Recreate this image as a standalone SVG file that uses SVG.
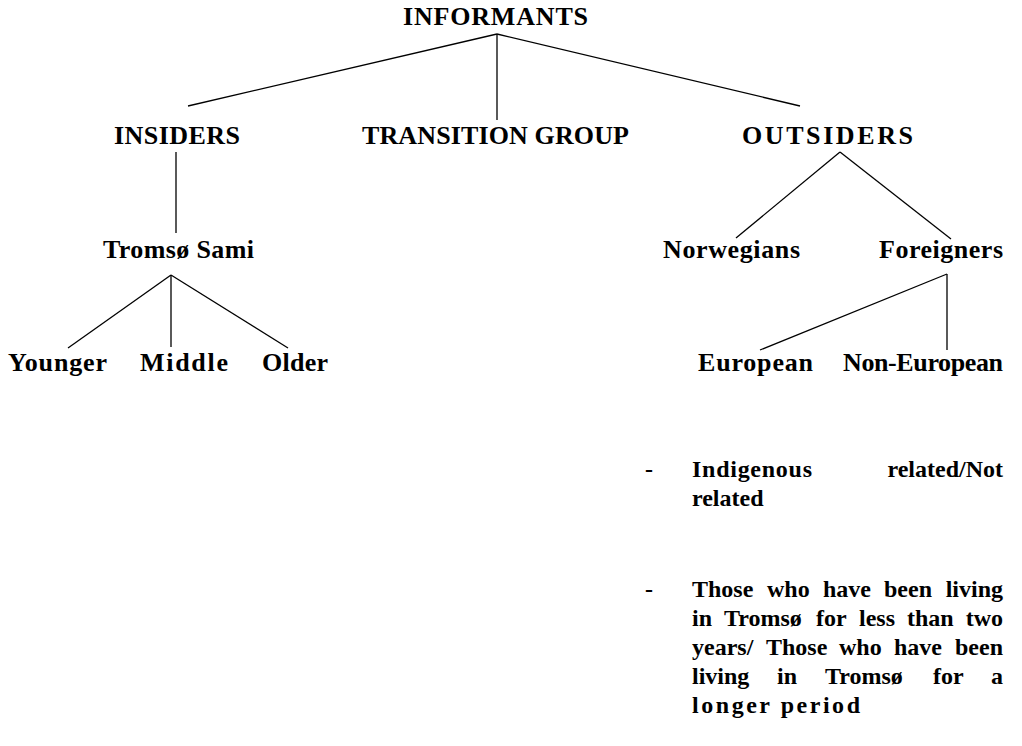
<svg xmlns="http://www.w3.org/2000/svg" width="1022" height="746" viewBox="0 0 1022 746">
<style>
text{font-family:"Liberation Serif","Times New Roman",serif;font-weight:bold;font-size:24px;fill:#000}
.h{font-size:26px}
.e{text-anchor:end}
line{stroke:#000;stroke-width:1.3;fill:none}
</style>
<rect width="1022" height="746" fill="#fff"/>
<g id="connectors">
<line x1="497" y1="34" x2="188" y2="106"/>
<line x1="497" y1="34" x2="497" y2="120"/>
<line x1="497" y1="34" x2="800" y2="106"/>
<line x1="176" y1="152" x2="176" y2="233"/>
<line x1="171" y1="275" x2="68" y2="348"/>
<line x1="171" y1="275" x2="171" y2="347"/>
<line x1="171" y1="275" x2="288" y2="348"/>
<line x1="840" y1="152" x2="736" y2="238"/>
<line x1="840" y1="152" x2="951" y2="239"/>
<line x1="947" y1="274" x2="760" y2="350"/>
<line x1="947" y1="274" x2="947" y2="350"/>
</g>
<g id="informants"><text class="h" x="403" y="25" textLength="185" lengthAdjust="spacing">INFORMANTS</text></g>
<g id="insiders"><text class="h" x="114" y="144" textLength="126" lengthAdjust="spacing">INSIDERS</text></g>
<g id="transition"><text class="h" x="362" y="144" textLength="267" lengthAdjust="spacing">TRANSITION GROUP</text></g>
<g id="outsiders"><text class="h" x="742" y="144" textLength="171" lengthAdjust="spacing">OUTSIDERS</text></g>
<g id="tromso-sami"><text class="h" x="103" y="258" textLength="151" lengthAdjust="spacing">Tromsø Sami</text></g>
<g id="norwegians"><text class="h" x="663" y="258" textLength="137" lengthAdjust="spacing">Norwegians</text></g>
<g id="foreigners"><text class="h" x="879" y="258" textLength="124" lengthAdjust="spacing">Foreigners</text></g>
<g id="younger"><text class="h" x="8" y="371" textLength="99" lengthAdjust="spacing">Younger</text></g>
<g id="middle"><text class="h" x="140" y="371" textLength="88" lengthAdjust="spacing">Middle</text></g>
<g id="older"><text class="h" x="262" y="371" textLength="66" lengthAdjust="spacing">Older</text></g>
<g id="european"><text class="h" x="698" y="371" textLength="115" lengthAdjust="spacing">European</text></g>
<g id="non-european"><text class="h" x="843" y="371" textLength="160" lengthAdjust="spacing">Non-European</text></g>
<g id="notes">
<text x="645" y="477">-</text>
<text x="692" y="477" textLength="120" lengthAdjust="spacing">Indigenous</text>
<text class="e" x="1003" y="477">related/Not</text>
<text x="692" y="506">related</text>
<text x="645" y="597">-</text>
<text y="597"><tspan x="692">Those</tspan><tspan x="767">who</tspan><tspan x="823">have</tspan><tspan x="884">been</tspan></text>
<text class="e" x="1003" y="597">living</text>
<text y="626"><tspan x="692">in</tspan><tspan x="724">Tromsø</tspan><tspan x="816">for</tspan><tspan x="859">less</tspan><tspan x="907">than</tspan></text>
<text class="e" x="1003" y="626">two</text>
<text y="655"><tspan x="692">years/</tspan><tspan x="766">Those</tspan><tspan x="839">who</tspan><tspan x="894">have</tspan></text>
<text class="e" x="1003" y="655">been</text>
<text y="684"><tspan x="692">living</tspan><tspan x="777">in</tspan><tspan x="825">Tromsø</tspan><tspan x="933">for</tspan></text>
<text class="e" x="1003" y="684">a</text>
<text x="692" y="713" textLength="168" lengthAdjust="spacing">longer period</text>
</g>
</svg>
